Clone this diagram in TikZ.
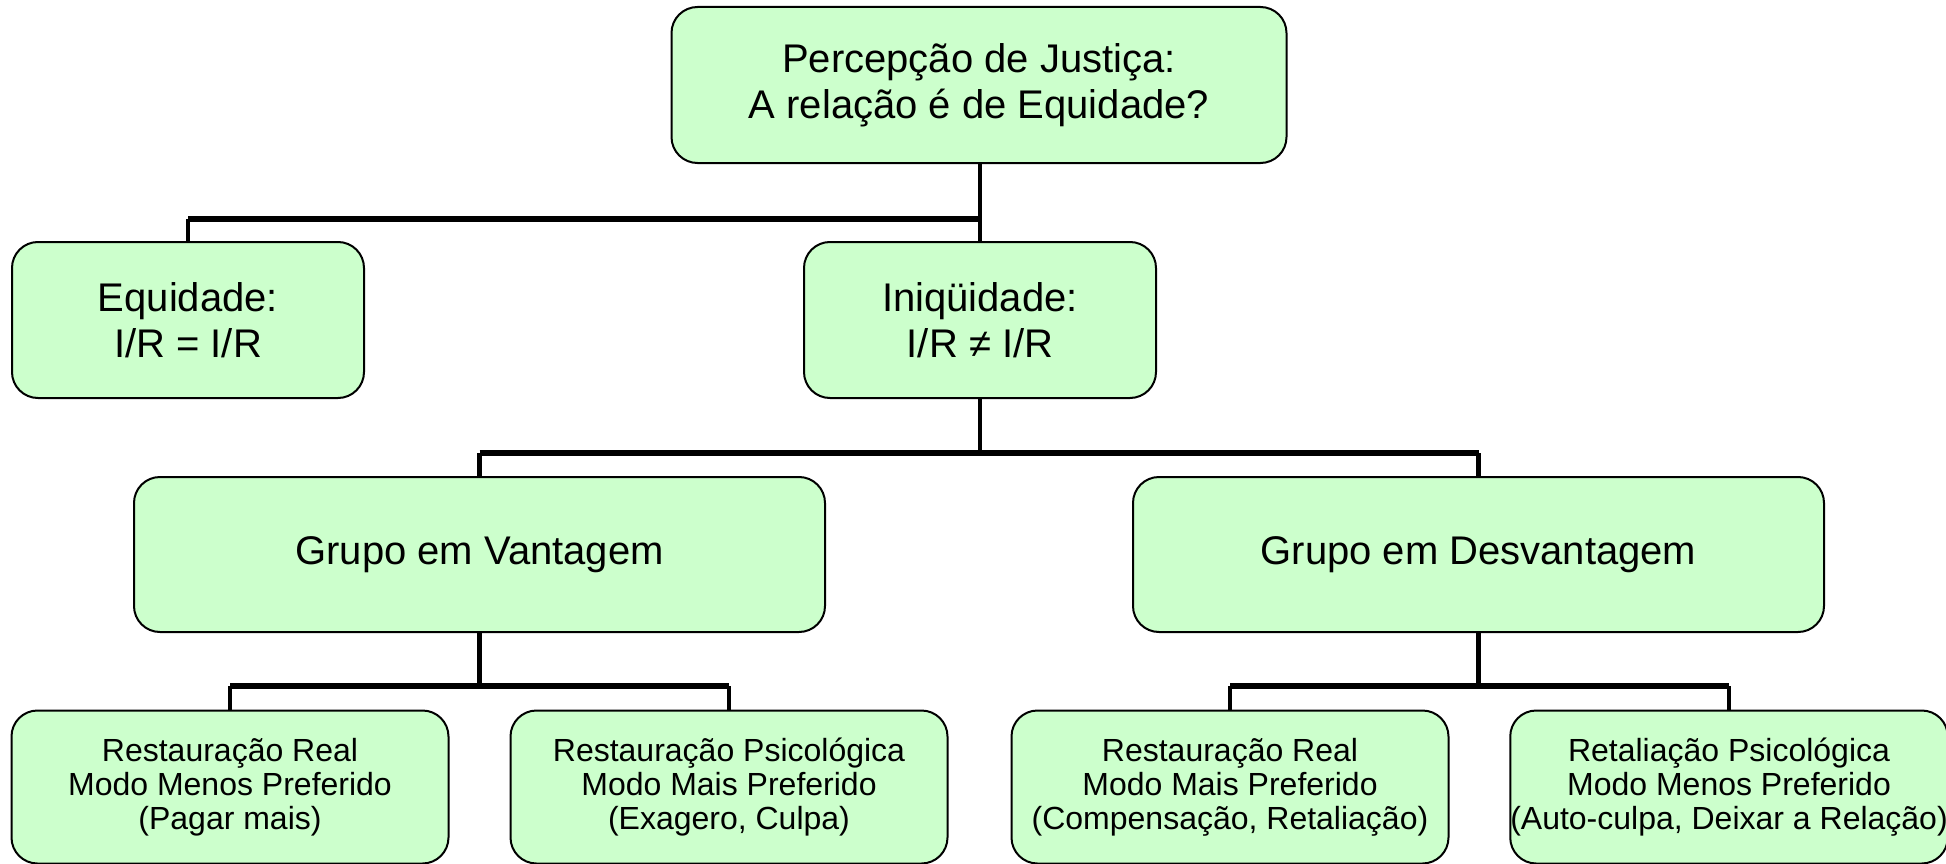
\documentclass[tikz,border=0pt]{standalone}
\usepackage{fontspec}
\setmainfont{Liberation Sans}
\usetikzlibrary{positioning}

\begin{document}
\begin{tikzpicture}[x=1pt,y=1pt,
  caixa/.style={draw,line width=2pt,fill=verde,rounded corners=26pt,align=center,inner sep=0pt},
  grande/.style={caixa,font=\fontsize{40}{46}\selectfont},
  pequena/.style={caixa,font=\fontsize{32}{34}\selectfont,minimum width=437pt,minimum height=153pt},
  liga/.style={line width=4.5pt},
  barra/.style={line width=6pt}]
\definecolor{verde}{HTML}{CCFFCC}
\useasboundingbox (0,0) rectangle (1946,-864);

\node[grande,minimum width=615pt,minimum height=156pt] (just) at (979,-85) {Percepção de Justiça:\\A relação é de Equidade?};
\node[grande,minimum width=352pt,minimum height=156pt] (equi) at (188,-320) {Equidade:\\I/R = I/R};
\node[grande,minimum width=352pt,minimum height=156pt] (iniq) at (980,-320) {Iniqüidade:\\I/R ≠ I/R};
\node[grande,minimum width=691pt,minimum height=155pt] (vant) at (479.5,-554.5) {Grupo em Vantagem};
\node[grande,minimum width=691pt,minimum height=155pt] (desv) at (1478.5,-554.5) {Grupo em Desvantagem};

\node[pequena] (real1) at (230,-787) {Restauração Real\\Modo Menos Preferido\\(Pagar mais)};
\node[pequena] (psic1) at (729,-787) {Restauração Psicológica\\Modo Mais Preferido\\(Exagero, Culpa)};
\node[pequena] (real2) at (1230,-787) {Restauração Real\\Modo Mais Preferido\\(Compensação, Retaliação)};
\node[pequena] (psic2) at (1729,-787) {Retaliação Psicológica\\Modo Menos Preferido\\(Auto-culpa, Deixar a Relação)};

\coordinate (j1) at (980,-219);
\coordinate (j2) at (980,-453);
\coordinate (j3) at (479.5,-686);
\coordinate (j4) at (1478.5,-686);

\draw[liga] (just.south -| j1) -- (iniq.north);
\draw[liga] (equi.north) -- (equi.north |- j1);
\draw[barra] (equi.north |- j1) -- (j1);

\draw[liga] (iniq.south) -- (j2);
\draw[liga] (vant.north) -- (vant.north |- j2);
\draw[liga] (desv.north) -- (desv.north |- j2);
\draw[barra] (vant.north |- j2) -- (desv.north |- j2);

\draw[liga] (vant.south) -- (j3);
\draw[liga] (real1.north) -- (real1.north |- j3);
\draw[liga] (psic1.north) -- (psic1.north |- j3);
\draw[barra] (real1.north |- j3) -- (psic1.north |- j3);

\draw[liga] (desv.south) -- (j4);
\draw[liga] (real2.north) -- (real2.north |- j4);
\draw[liga] (psic2.north) -- (psic2.north |- j4);
\draw[barra] (real2.north |- j4) -- (psic2.north |- j4);
\end{tikzpicture}
\end{document}
